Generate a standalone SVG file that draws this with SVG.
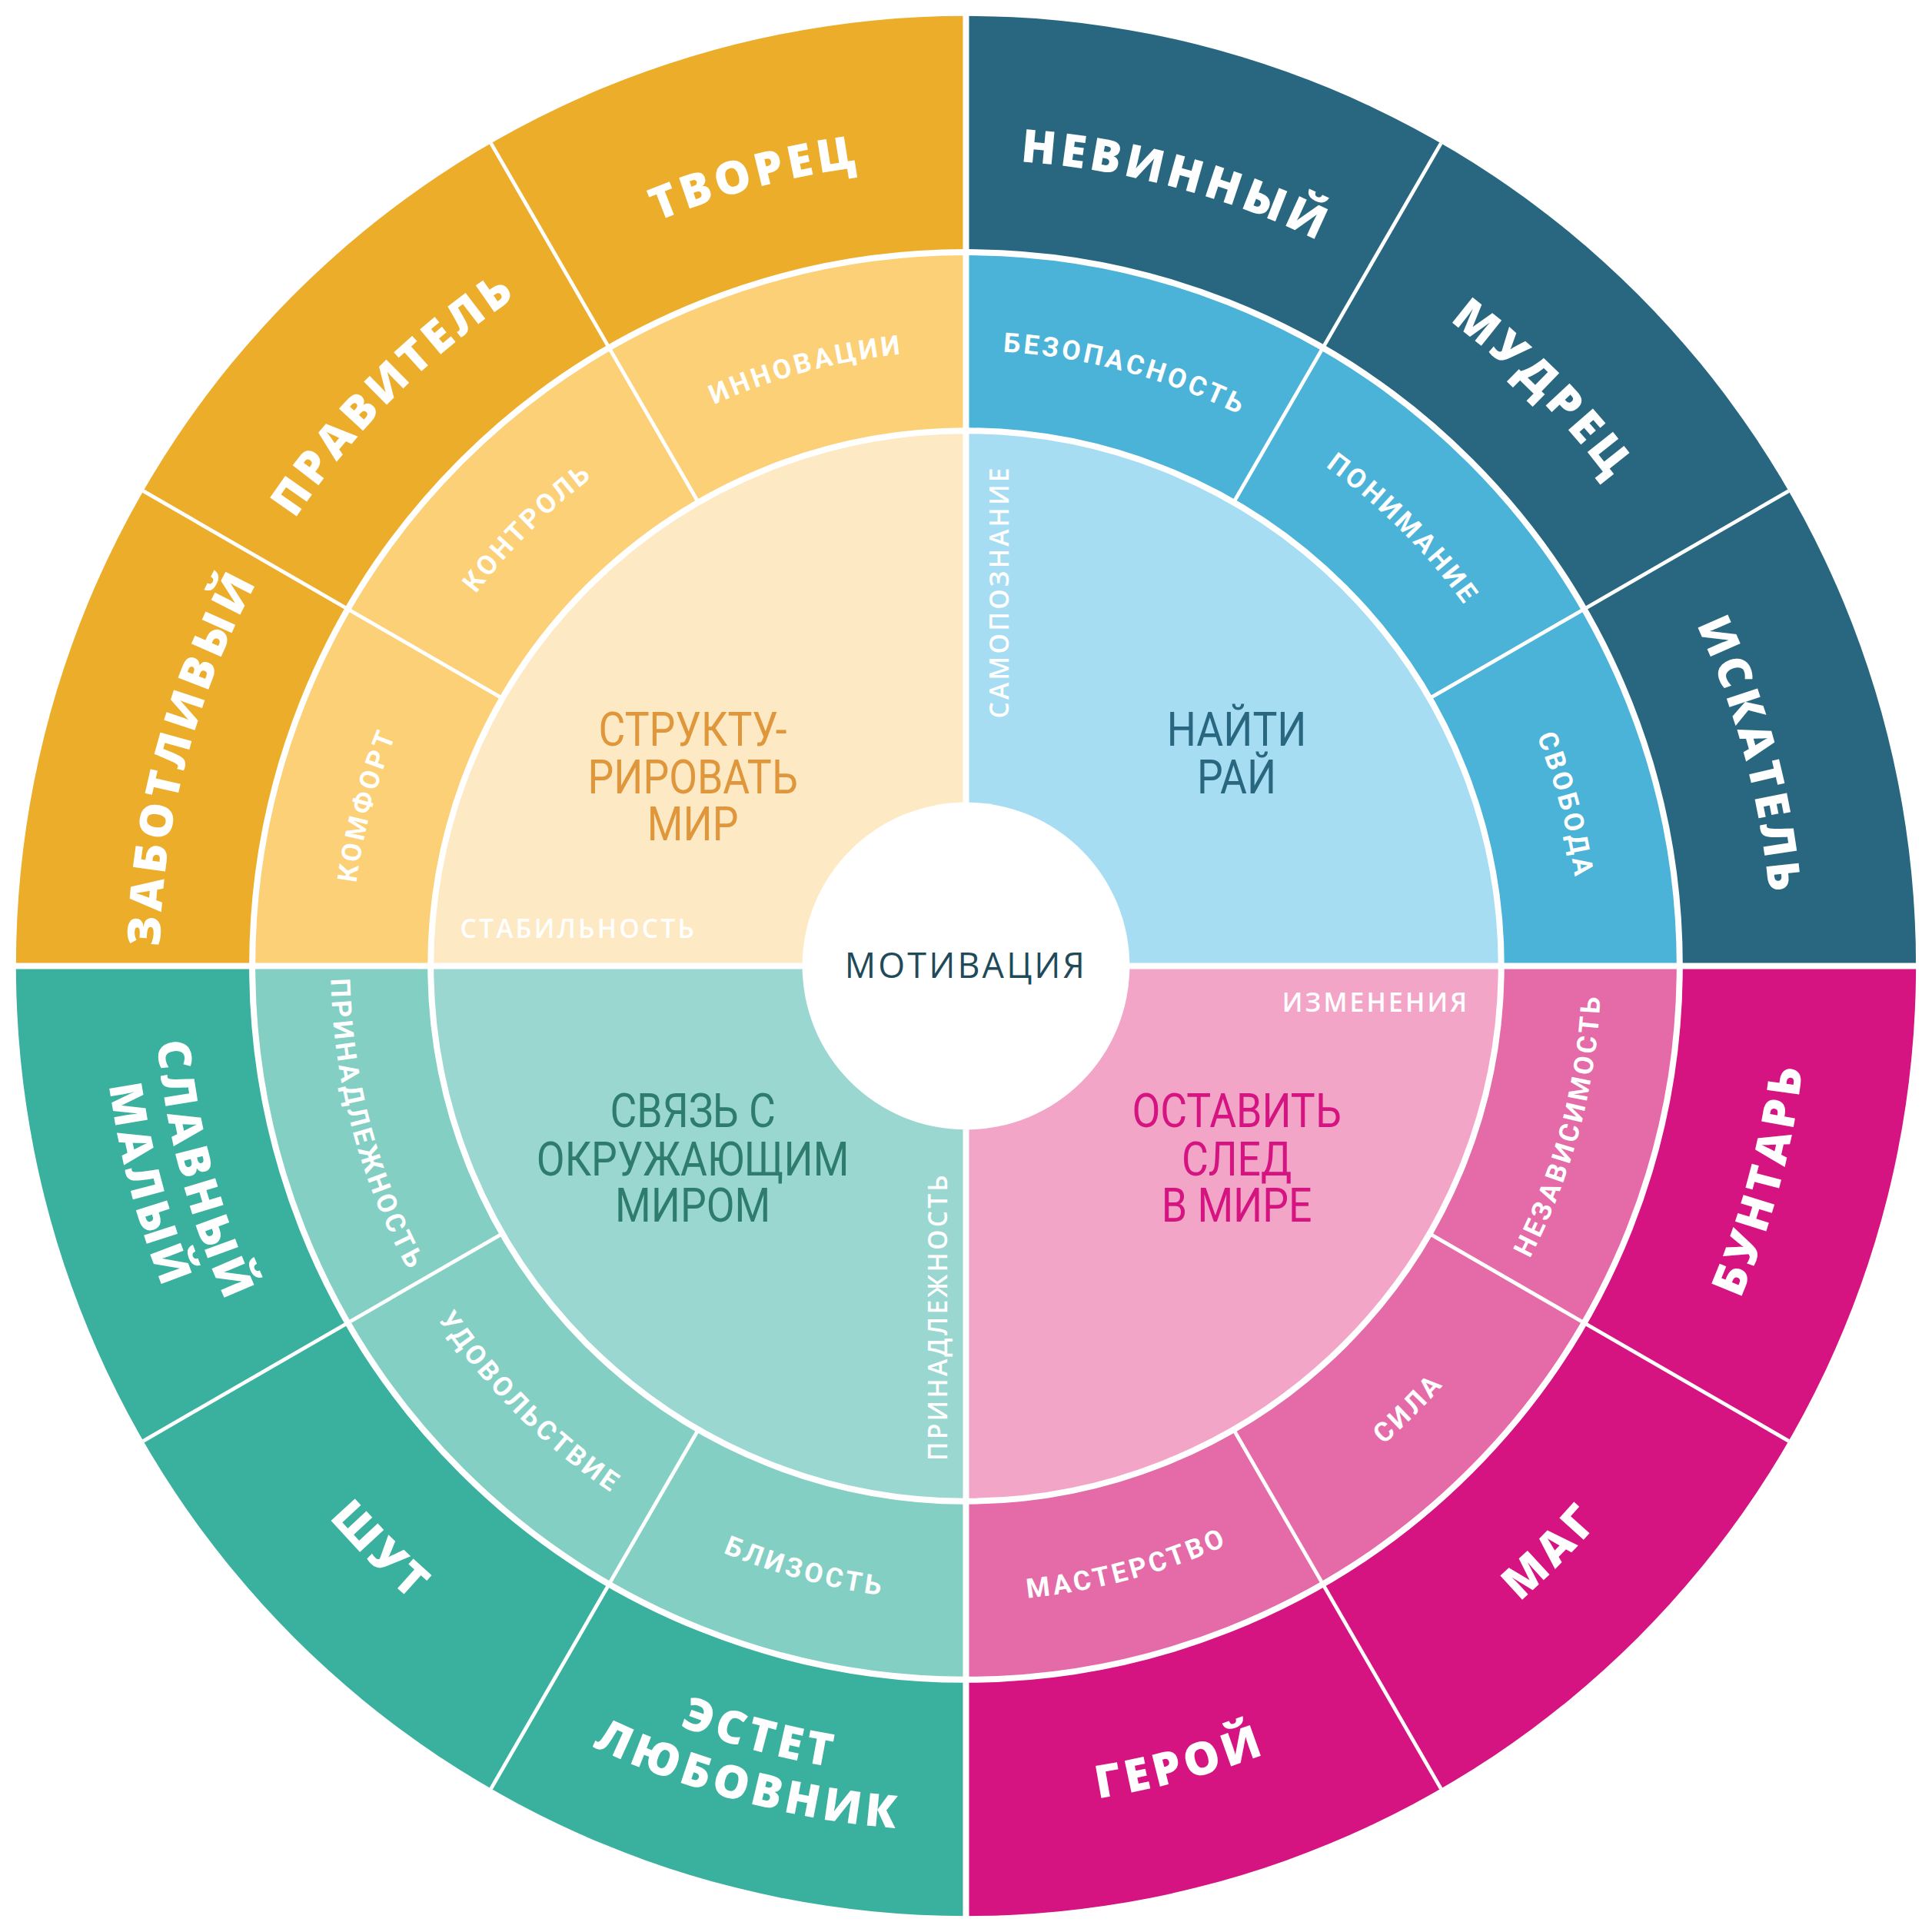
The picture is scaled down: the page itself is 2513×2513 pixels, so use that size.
<svg xmlns="http://www.w3.org/2000/svg" width="2513" height="2513" viewBox="0 0 2513 2513">
<style>
.o{font-family:"Open Sans","DejaVu Sans",sans-serif;font-weight:800;font-size:37px;letter-spacing:3.5px;fill:#fff}
.m{font-family:Roboto,"DejaVu Sans",sans-serif;font-weight:700;font-size:22px;letter-spacing:2.5px;fill:#fff}
.c{font-family:Roboto,"DejaVu Sans",sans-serif;font-weight:400;font-size:38px;text-anchor:middle}
.s{font-family:"Open Sans","DejaVu Sans",sans-serif;font-weight:600;font-size:21px;letter-spacing:2px;fill:#fff}
.sep{stroke:#fff;fill:none}
</style>
<defs>
<path id="cw655" d="M785,1440 A655,655 0 1 1 785,130 A655,655 0 1 1 785,1440"/>
<path id="ccw685" d="M785,100 A685,685 0 1 0 785,1470 A685,685 0 1 0 785,100"/>
<path id="ccw660" d="M785,125 A660,660 0 1 0 785,1445 A660,660 0 1 0 785,125"/>
<path id="ccw703" d="M785,82 A703,703 0 1 0 785,1488 A703,703 0 1 0 785,82"/>
<path id="cw500" d="M785,1285 A500,500 0 1 1 785,285 A500,500 0 1 1 785,1285"/>
<path id="ccw516" d="M785,269 A516,516 0 1 0 785,1301 A516,516 0 1 0 785,269"/>
</defs>
<rect width="2513" height="2513" fill="#fff"/>
<g transform="scale(1.6006)">
<g id="quadrant-structure">
<path d="M785,785 L13,785 A772,772 0 0 1 785,13 Z" fill="#EBAD2A"/>
<path d="M785,785 L205,785 A580,580 0 0 1 785,205 Z" fill="#FCD077"/>
<path d="M785,785 L350,785 A435,435 0 0 1 785,350 Z" fill="#FDE9C3"/>
</g>
<g id="quadrant-paradise">
<path d="M785,785 L785,13 A772,772 0 0 1 1557,785 Z" fill="#28677F"/>
<path d="M785,785 L785,205 A580,580 0 0 1 1365,785 Z" fill="#4BB2D8"/>
<path d="M785,785 L785,350 A435,435 0 0 1 1220,785 Z" fill="#A7DDF3"/>
</g>
<g id="quadrant-mark">
<path d="M785,785 L1557,785 A772,772 0 0 1 785,1557 Z" fill="#D51381"/>
<path d="M785,785 L1365,785 A580,580 0 0 1 785,1365 Z" fill="#E46BA8"/>
<path d="M785,785 L1220,785 A435,435 0 0 1 785,1220 Z" fill="#F3A5C8"/>
</g>
<g id="quadrant-connect">
<path d="M785,785 L785,1557 A772,772 0 0 1 13,785 Z" fill="#3AB09E"/>
<path d="M785,785 L785,1365 A580,580 0 0 1 205,785 Z" fill="#84CFC4"/>
<path d="M785,785 L785,1220 A435,435 0 0 1 350,785 Z" fill="#9BD7D1"/>
</g>
<g id="connectors">
<circle class="sep" cx="785" cy="785" r="580" stroke-width="5"/>
<circle class="sep" cx="785" cy="785" r="435" stroke-width="5"/>
<line class="sep" x1="10" y1="785" x2="1560" y2="785" stroke-width="5"/>
<line class="sep" x1="785" y1="10" x2="785" y2="1560" stroke-width="5"/>
<g stroke-width="3">
<line class="sep" x1="1220" y1="785" x2="1557" y2="785" transform="rotate(-30 785 785)"/>
<line class="sep" x1="1220" y1="785" x2="1557" y2="785" transform="rotate(-60 785 785)"/>
<line class="sep" x1="1220" y1="785" x2="1557" y2="785" transform="rotate(-120 785 785)"/>
<line class="sep" x1="1220" y1="785" x2="1557" y2="785" transform="rotate(-150 785 785)"/>
<line class="sep" x1="1220" y1="785" x2="1557" y2="785" transform="rotate(30 785 785)"/>
<line class="sep" x1="1220" y1="785" x2="1557" y2="785" transform="rotate(60 785 785)"/>
<line class="sep" x1="1220" y1="785" x2="1557" y2="785" transform="rotate(120 785 785)"/>
<line class="sep" x1="1220" y1="785" x2="1557" y2="785" transform="rotate(150 785 785)"/>
</g>
</g>
<g id="outer-labels" text-anchor="middle">
<text class="o"><textPath href="#cw655" startOffset="45.833%">ТВОРЕЦ</textPath></text>
<text class="o"><textPath href="#cw655" startOffset="37.5%">ПРАВИТЕЛЬ</textPath></text>
<text class="o"><textPath href="#cw655" startOffset="29.167%">ЗАБОТЛИВЫЙ</textPath></text>
<text class="o"><textPath href="#cw655" startOffset="54.167%">НЕВИННЫЙ</textPath></text>
<text class="o"><textPath href="#cw655" startOffset="62.5%">МУДРЕЦ</textPath></text>
<text class="o"><textPath href="#cw655" startOffset="70.833%">ИСКАТЕЛЬ</textPath></text>
<text class="o"><textPath href="#ccw685" startOffset="70.833%">БУНТАРЬ</textPath></text>
<text class="o"><textPath href="#ccw685" startOffset="62.5%">МАГ</textPath></text>
<text class="o"><textPath href="#ccw685" startOffset="54.167%">ГЕРОЙ</textPath></text>
<text class="o"><textPath href="#ccw660" startOffset="45.833%">ЭСТЕТ</textPath></text>
<text class="o"><textPath href="#ccw703" startOffset="45.833%">ЛЮБОВНИК</textPath></text>
<text class="o"><textPath href="#ccw685" startOffset="37.5%">ШУТ</textPath></text>
<text class="o"><textPath href="#ccw660" startOffset="29.167%">СЛАВНЫЙ</textPath></text>
<text class="o"><textPath href="#ccw703" startOffset="29.167%">МАЛЫЙ</textPath></text>
</g>
<g id="middle-labels" text-anchor="middle">
<text class="m"><textPath href="#cw500" startOffset="45.833%">ИННОВАЦИИ</textPath></text>
<text class="m"><textPath href="#cw500" startOffset="37.5%">КОНТРОЛЬ</textPath></text>
<text class="m"><textPath href="#cw500" startOffset="29.167%">КОМФОРТ</textPath></text>
<text class="m"><textPath href="#cw500" startOffset="54.167%">БЕЗОПАСНОСТЬ</textPath></text>
<text class="m"><textPath href="#cw500" startOffset="62.5%">ПОНИМАНИЕ</textPath></text>
<text class="m"><textPath href="#cw500" startOffset="70.833%">СВОБОДА</textPath></text>
<text class="m"><textPath href="#ccw516" startOffset="70.833%">НЕЗАВИСИМОСТЬ</textPath></text>
<text class="m"><textPath href="#ccw516" startOffset="62.5%">СИЛА</textPath></text>
<text class="m"><textPath href="#ccw516" startOffset="54.167%">МАСТЕРСТВО</textPath></text>
<text class="m"><textPath href="#ccw516" startOffset="45.833%">БЛИЗОСТЬ</textPath></text>
<text class="m"><textPath href="#ccw516" startOffset="37.5%">УДОВОЛЬСТВИЕ</textPath></text>
<text class="m"><textPath href="#ccw516" startOffset="29.167%">ПРИНАДЛЕЖНОСТЬ</textPath></text>
</g>
<g id="inner-structure">
<text class="c" fill="#E0963A" transform="translate(563,0) scale(0.88,1) translate(-563,0)"><tspan x="563" y="606">СТРУКТУ-</tspan><tspan x="563" y="645">РИРОВАТЬ</tspan><tspan x="563" y="683">МИР</tspan></text>
<text class="s" x="470" y="762" text-anchor="middle">СТАБИЛЬНОСТЬ</text>
</g>
<g id="inner-paradise">
<text class="c" fill="#28677F" transform="translate(1005,0) scale(0.88,1) translate(-1005,0)"><tspan x="1005" y="606">НАЙТИ</tspan><tspan x="1005" y="645">РАЙ</tspan></text>
<text class="s" transform="translate(820,481) rotate(-90)" text-anchor="middle">САМОПОЗНАНИЕ</text>
</g>
<g id="inner-mark">
<text class="c" fill="#D51381" transform="translate(1005,0) scale(0.88,1) translate(-1005,0)"><tspan x="1005" y="916">ОСТАВИТЬ</tspan><tspan x="1005" y="955">СЛЕД</tspan><tspan x="1005" y="993">В МИРЕ</tspan></text>
<text class="s" x="1118" y="822" text-anchor="middle">ИЗМЕНЕНИЯ</text>
</g>
<g id="inner-connect">
<text class="c" fill="#2E7C6D" transform="translate(563,0) scale(0.88,1) translate(-563,0)"><tspan x="563" y="916">СВЯЗЬ С</tspan><tspan x="563" y="955">ОКРУЖАЮЩИМ</tspan><tspan x="563" y="993">МИРОМ</tspan></text>
<text class="s" transform="translate(770,1070) rotate(-90)" text-anchor="middle">ПРИНАДЛЕЖНОСТЬ</text>
</g>
<g id="center">
<circle cx="785" cy="785" r="133" fill="#fff"/>
<text x="785" y="795" text-anchor="middle" font-family="'Open Sans','DejaVu Sans',sans-serif" font-size="28" letter-spacing="2" fill="#1F4A5A">МОТИВАЦИЯ</text>
</g>
</g>
</svg>
